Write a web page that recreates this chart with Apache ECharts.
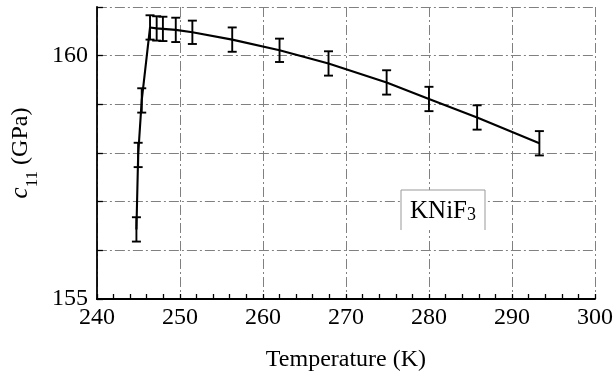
<!DOCTYPE html>
<html>
<head>
<meta charset="utf-8">
<script src="https://cdn.jsdelivr.net/npm/echarts@6/dist/echarts.min.js"></script>
<style>html,body{margin:0;padding:0;background:#fff;}#chart{width:616px;height:377px;}</style>
</head>
<body>
<div id="chart"></div>
<script>
// Data
var temps = [244.76, 244.97, 245.4, 246.4, 247.2, 247.95, 249.5, 251.5, 256.3, 262.0, 267.9, 274.9, 280.0, 285.8, 293.3];
var c11   = [156.43, 157.96, 159.08, 160.58, 160.56, 160.55, 160.53, 160.48, 160.33, 160.11, 159.84, 159.45, 159.11, 158.73, 158.20];
var errs  = [0.25, 0.25, 0.25, 0.25, 0.25, 0.25, 0.25, 0.24, 0.25, 0.24, 0.25, 0.25, 0.25, 0.25, 0.25];
var yTickLabels = [155, 160];
var xName = 'Temperature (K)';
var legendLabel = 'KNiF';

var FONT = 'Liberation Serif';
var lineData = temps.map(function (t, i) { return [t, c11[i]]; });
var errData = temps.map(function (t, i) { return [t, c11[i] - errs[i], c11[i] + errs[i]]; });

var chart = echarts.init(document.getElementById('chart'));
var gridStyle = { color: '#808080', width: 1, type: [10, 3, 2, 3] };

chart.setOption({
  animation: false,
  backgroundColor: '#fff',
  grid: { left: 87, right: 16, top: 7, bottom: 70, containLabel: false },
  xAxis: {
    type: 'value', min: 240, max: 300, interval: 10,
    name: xName, nameLocation: 'middle', nameGap: 49,
    nameTextStyle: { fontFamily: FONT, fontSize: 24, color: '#000' },
    axisLine: { show: true, onZero: false, lineStyle: { color: '#000', width: 1.8 } },
    axisTick: { show: true, inside: true, length: 5, lineStyle: { color: '#000', width: 1.3 } },
    minorTick: { show: true, splitNumber: 5, length: 5, lineStyle: { color: '#000', width: 1.3 } },
    axisLabel: { fontFamily: FONT, fontSize: 24, color: '#000', margin: 7 },
    splitLine: { show: true, lineStyle: gridStyle }
  },
  yAxis: {
    type: 'value', min: 155, max: 161, interval: 1,
    name: '{i|c}{s|11} (GPa)', nameLocation: 'middle', nameGap: 63,
    nameTextStyle: {
      fontFamily: FONT, fontSize: 24, color: '#000',
      rich: {
        i: { fontFamily: FONT, fontSize: 25, fontStyle: 'italic', color: '#000' },
        s: { fontFamily: FONT, fontSize: 17, color: '#000', verticalAlign: 'bottom', padding: [0, 0, -8, 0] }
      }
    },
    axisLine: { show: true, onZero: false, lineStyle: { color: '#000', width: 1.8 } },
    axisTick: { show: true, inside: true, length: 6, lineStyle: { color: '#000', width: 1.3 } },
    axisLabel: {
      fontFamily: FONT, fontSize: 24, color: '#000', margin: 9,
      formatter: function (v) { return yTickLabels.indexOf(v) >= 0 ? String(v) : ''; }
    },
    splitLine: { show: true, lineStyle: gridStyle }
  },
  series: [
    {
      type: 'line', data: lineData, symbol: 'none', smooth: false,
      lineStyle: { color: '#000', width: 2.1 }, z: 3
    },
    {
      type: 'custom', data: errData, z: 4,
      renderItem: function (params, api) {
        var lo = api.coord([api.value(0), api.value(1)]);
        var hi = api.coord([api.value(0), api.value(2)]);
        var hw = 4.5;
        var st = { stroke: '#000', lineWidth: 1.9 };
        return {
          type: 'group',
          children: [
            { type: 'line', shape: { x1: lo[0], y1: lo[1], x2: hi[0], y2: hi[1] }, style: st },
            { type: 'line', shape: { x1: lo[0] - hw, y1: lo[1], x2: lo[0] + hw, y2: lo[1] }, style: st },
            { type: 'line', shape: { x1: hi[0] - hw, y1: hi[1], x2: hi[0] + hw, y2: hi[1] }, style: st }
          ]
        };
      }
    }
  ],
  graphic: [
    { type: 'rect', shape: { x: 401, y: 190, width: 84, height: 40 }, style: { fill: '#fff' }, z: 10 },
    { type: 'polyline', shape: { points: [[401, 230], [401, 190], [485, 190], [485, 230]] },
      style: { stroke: '#999', lineWidth: 1, fill: null }, z: 11 },
    { type: 'text', x: 443, y: 211, z: 12,
      style: {
        text: '{a|' + legendLabel + '}{b|3}',
        align: 'center', verticalAlign: 'middle',
        rich: {
          a: { fontFamily: FONT, fontSize: 25, fill: '#000' },
          b: { fontFamily: FONT, fontSize: 18, fill: '#000', padding: [8, 0, 0, 0] }
        }
      }
    }
  ]
});
</script>
</body>
</html>
